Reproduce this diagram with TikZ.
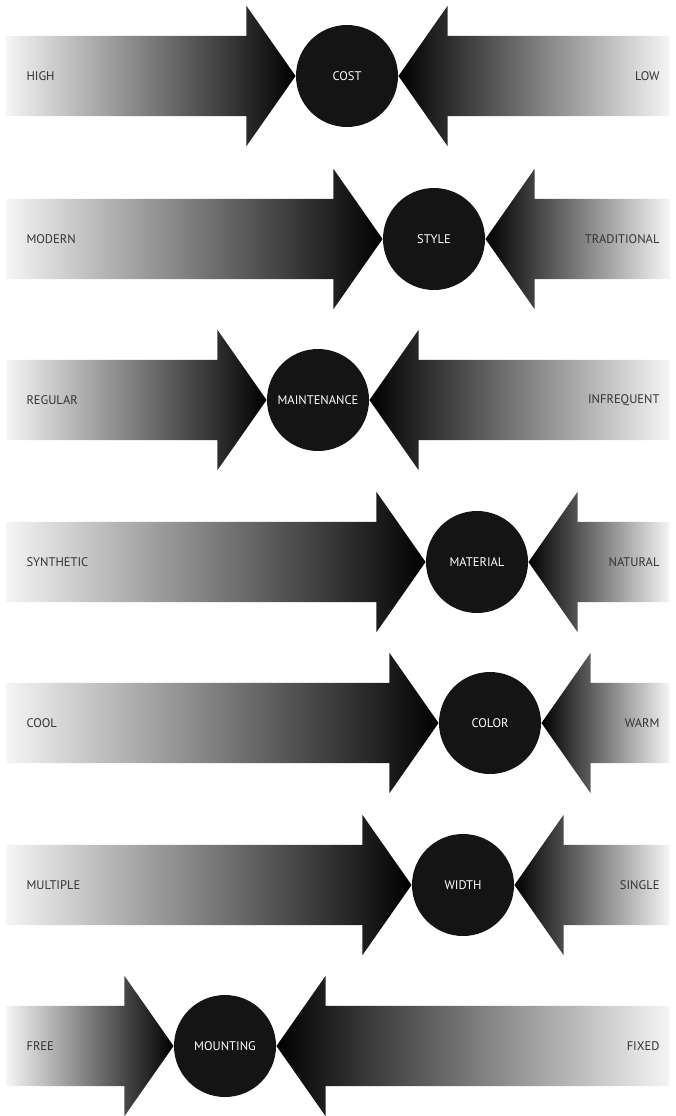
\documentclass[tikz,border=0pt]{standalone}
\usepackage{fontspec}
\setmainfont{PT Sans}
\usepackage{tikz}
\usetikzlibrary{shapes.arrows}
\usetikzlibrary{positioning}
\tikzset{
  hub/.style={circle, fill=black!92, minimum size=102pt, inner sep=0pt, text=white, font=\fontsize{12.5}{14}\selectfont},
  toright/.style={single arrow, single arrow head extend=30pt, single arrow tip angle=110, inner xsep=0pt, inner ysep=40pt, left color=white!96!black, right color=black, anchor=tip},
  toleft/.style={toright, shape border rotate=180, left color=black, right color=white!96!black},
  sidelabel/.style={text=black!80, inner sep=0pt, font=\fontsize{12.5}{14}\selectfont}
}

\begin{document}
\begin{tikzpicture}[x=1pt, y=-1pt]
    \useasboundingbox (0,0) rectangle (676,1116);

    \node[hub] (cost) at (347,76) {COST};
    \node[toright, minimum height=289pt] (costL) at (cost.west) {};
    \node[toleft, minimum height=271pt] (costR) at (cost.east) {};
    \node[sidelabel, right=20pt of costL.tail, anchor=west] (high) {HIGH};
    \node[sidelabel, left=10pt of costR.tail, anchor=east] (low) {LOW};

    \node[hub] (style) at (434,239) {STYLE};
    \node[toright, minimum height=376pt] (styleL) at (style.west) {};
    \node[toleft, minimum height=184pt] (styleR) at (style.east) {};
    \node[sidelabel, right=20pt of styleL.tail, anchor=west] (modern) {MODERN};
    \node[sidelabel, left=10pt of styleR.tail, anchor=east] (traditional) {TRADITIONAL};

    \node[hub] (maintenance) at (318,400) {MAINTENANCE};
    \node[toright, minimum height=260pt] (maintenanceL) at (maintenance.west) {};
    \node[toleft, minimum height=300pt] (maintenanceR) at (maintenance.east) {};
    \node[sidelabel, right=20pt of maintenanceL.tail, anchor=west] (regular) {REGULAR};
    \node[sidelabel, left=10pt of maintenanceR.tail, anchor=east] (infrequent) {INFREQUENT};

    \node[hub] (material) at (477,562) {MATERIAL};
    \node[toright, minimum height=419pt] (materialL) at (material.west) {};
    \node[toleft, minimum height=141pt] (materialR) at (material.east) {};
    \node[sidelabel, right=20pt of materialL.tail, anchor=west] (synthetic) {SYNTHETIC};
    \node[sidelabel, left=10pt of materialR.tail, anchor=east] (natural) {NATURAL};

    \node[hub] (color) at (490,723) {COLOR};
    \node[toright, minimum height=432pt] (colorL) at (color.west) {};
    \node[toleft, minimum height=128pt] (colorR) at (color.east) {};
    \node[sidelabel, right=20pt of colorL.tail, anchor=west] (cool) {COOL};
    \node[sidelabel, left=10pt of colorR.tail, anchor=east] (warm) {WARM};

    \node[hub] (width) at (463,885) {WIDTH};
    \node[toright, minimum height=405pt] (widthL) at (width.west) {};
    \node[toleft, minimum height=155pt] (widthR) at (width.east) {};
    \node[sidelabel, right=20pt of widthL.tail, anchor=west] (multiple) {MULTIPLE};
    \node[sidelabel, left=10pt of widthR.tail, anchor=east] (single) {SINGLE};

    \node[hub] (mounting) at (225,1046) {MOUNTING};
    \node[toright, minimum height=167pt] (mountingL) at (mounting.west) {};
    \node[toleft, minimum height=393pt] (mountingR) at (mounting.east) {};
    \node[sidelabel, right=20pt of mountingL.tail, anchor=west] (free) {FREE};
    \node[sidelabel, left=10pt of mountingR.tail, anchor=east] (fixed) {FIXED};
  \end{tikzpicture}
\end{document}
